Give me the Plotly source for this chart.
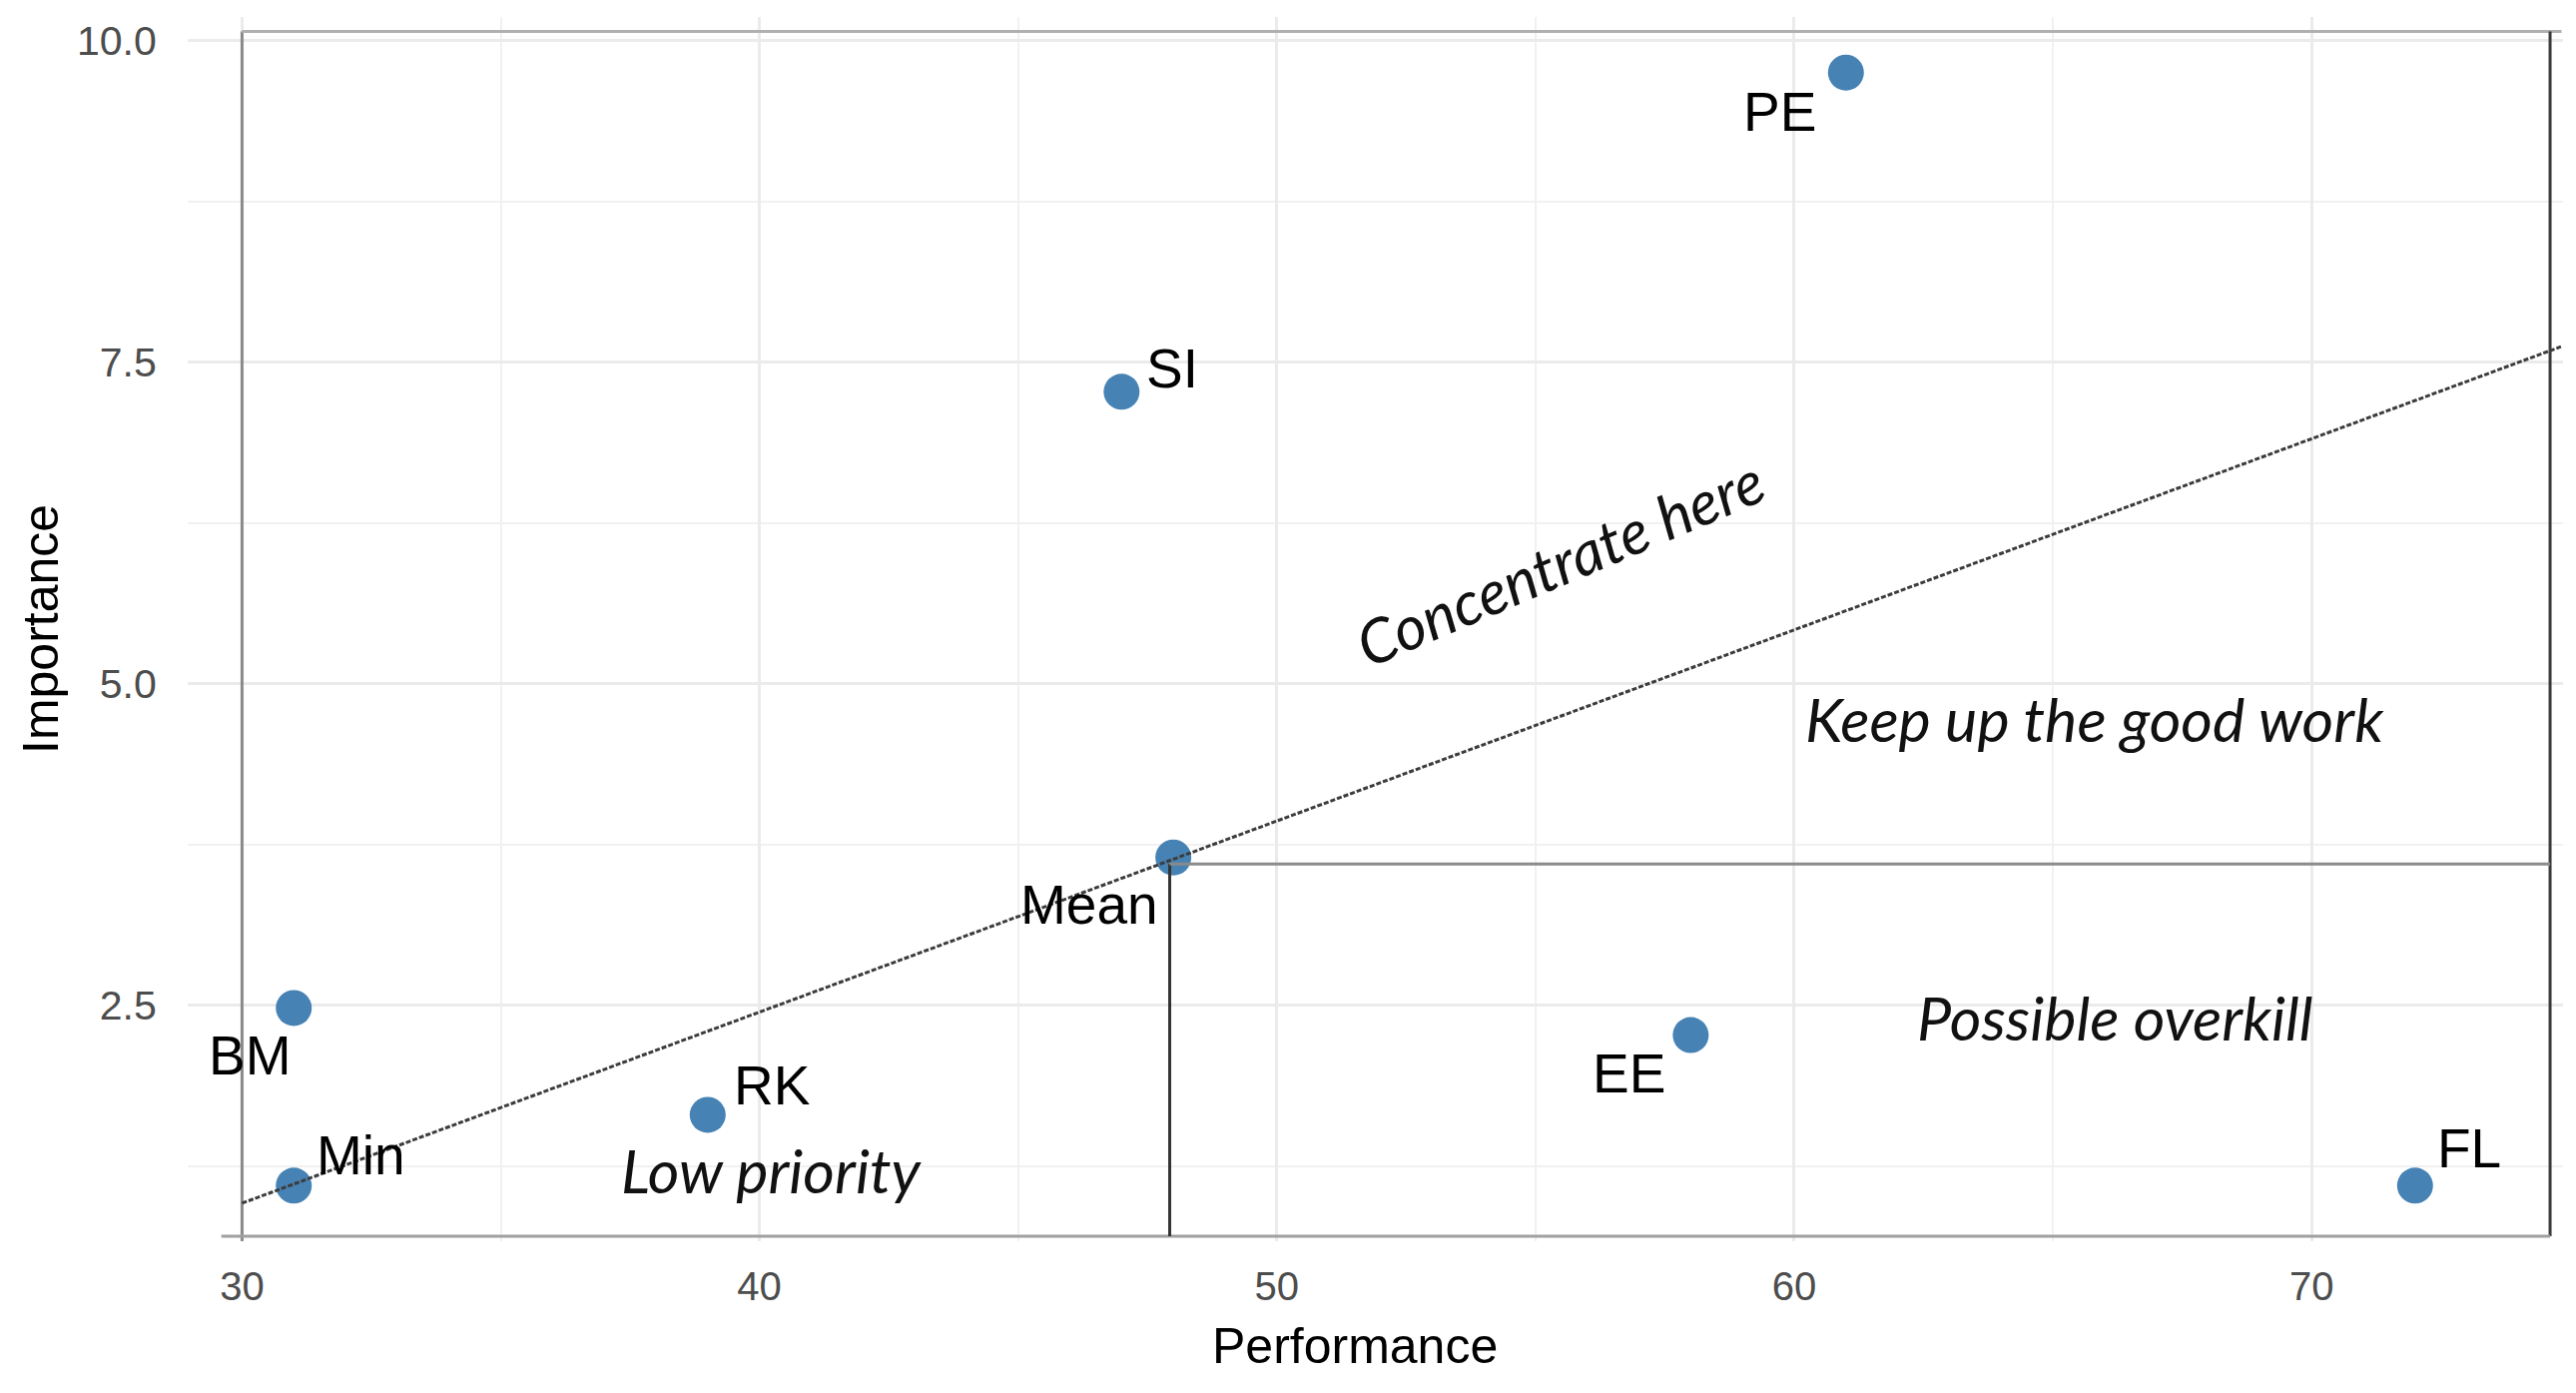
import plotly.graph_objects as go

# ---------------- data ----------------
labels = ["PE", "SI", "Mean", "BM", "Min", "RK", "EE", "FL"]
performance = [61, 47, 48, 31, 31, 39, 58, 72]
importance = [9.75, 7.27, 3.65, 2.48, 1.10, 1.65, 2.27, 1.10]

# label offsets in px relative to the point (dx right, dy up)
label_dx = [-66, 51, -84, -44, 67, 65, -62, 54]
label_dy = [-39, 23, -47, -48, 30, 29, -38, 37]

x_ticks = [30, 40, 50, 60, 70]
y_ticks = [2.5, 5.0, 7.5, 10.0]
y_tick_text = ["2.5", "5.0", "7.5", "10.0"]

quadrant_text = ["Concentrate here", "Keep up the good work", "Possible overkill", "Low priority"]
quadrant_x = [55.47, 65.8, 66.2, 40.24]
quadrant_y = [5.95, 4.73, 2.41, 1.22]
quadrant_angle = [-23, 0, 0, 0]

# hand-drawn frame / guide lines (data units)
frame_x = [30, 74.61]
frame_y = [0.706, 10.07]
frame_top_end = 74.83
frame_bottom_start = 29.6
diag_x = [30, 74.82]
diag_y = [0.963, 7.62]
mean_line_x = 47.93
mean_line_y = 3.60

# ---------------- ranges (ggplot-like 5% expansion) ----------------
xr = max(performance) - min(performance)
yr = max(importance) - min(importance)
x_range = [min(performance) - 0.05 * xr, frame_top_end + 0.03]
y_range = [min(importance) - 0.05 * yr, max(importance) + 0.05 * yr]

fig = go.Figure()

fig.add_trace(go.Scatter(
    x=performance, y=importance, mode="markers",
    marker=dict(color="#4682B4", size=36, line=dict(width=0)),
    showlegend=False, hoverinfo="skip",
))

shapes = []
def seg(x0, y0, x1, y1, color, width, dash="solid"):
    shapes.append(dict(type="line", xref="x", yref="y", x0=x0, y0=y0, x1=x1, y1=y1,
                       line=dict(color=color, width=width, dash=dash), layer="above"))

# frame
seg(frame_x[0], frame_y[0] - 0.08, frame_x[0], frame_y[1], "#8a8a8a", 3)      # left
seg(frame_x[0], frame_y[1], frame_top_end, frame_y[1], "#b0b0b0", 3)           # top
seg(frame_x[1], frame_y[0], frame_x[1], frame_y[1], "#3a3a3a", 3)              # right
seg(frame_bottom_start, frame_y[0], frame_x[1], frame_y[0], "#a0a0a0", 3)      # bottom
# mean lines
seg(mean_line_x, mean_line_y, mean_line_x, frame_y[0], "#333333", 3)
seg(mean_line_x, mean_line_y, frame_x[1], mean_line_y, "#8a8a8a", 3)
# diagonal
seg(diag_x[0], diag_y[0], diag_x[1], diag_y[1], "#3c3c3c", 3, "5px,2px")

annotations = []
for lab, x, y, dx, dy in zip(labels, performance, importance, label_dx, label_dy):
    annotations.append(dict(
        x=x, y=y, xref="x", yref="y", text=lab, showarrow=False,
        xshift=dx, yshift=dy, xanchor="center", yanchor="middle",
        font=dict(family="Liberation Sans, Arial, sans-serif", size=55, color="#000000"),
    ))
for t, x, y, a in zip(quadrant_text, quadrant_x, quadrant_y, quadrant_angle):
    annotations.append(dict(
        x=x, y=y, xref="x", yref="y", text="<i>" + t + "</i>", showarrow=False,
        textangle=a, xanchor="center", yanchor="middle",
        font=dict(family="Lato, Open Sans, sans-serif", size=61, color="#111111"),
    ))
# axis titles
annotations.append(dict(
    x=(min(performance) - 0.05 * xr + max(performance) + 0.05 * xr) / 2, y=0,
    xref="x", yref="paper", text="Performance", showarrow=False,
    yshift=-105, xanchor="center", yanchor="middle",
    font=dict(family="Liberation Sans, Arial, sans-serif", size=50, color="#000000"),
))
annotations.append(dict(
    x=0, y=0.5, xref="paper", yref="paper", text="Importance", showarrow=False,
    xshift=-147, textangle=-90, xanchor="center", yanchor="middle",
    font=dict(family="Liberation Sans, Arial, sans-serif", size=50, color="#000000"),
))

fig.update_layout(
    width=2580, height=1395,
    margin=dict(l=188, r=13, t=17, b=152),
    paper_bgcolor="white", plot_bgcolor="white",
    shapes=shapes, annotations=annotations,
    showlegend=False,
)
fig.update_xaxes(
    range=x_range, tickvals=x_ticks, ticktext=[str(v) for v in x_ticks],
    showgrid=True, gridcolor="#EBEBEB", gridwidth=3,
    minor=dict(dtick=5, tick0=30, showgrid=True, gridcolor="#F1F1F1", gridwidth=2),
    zeroline=False, showline=False,
    ticks="outside", ticklen=10, tickcolor="rgba(0,0,0,0)",
    tickfont=dict(family="Liberation Sans, Arial, sans-serif", size=40, color="#4D4D4D"),
)
fig.update_yaxes(
    range=y_range, tickvals=y_ticks, ticktext=y_tick_text,
    showgrid=True, gridcolor="#EBEBEB", gridwidth=3,
    minor=dict(dtick=1.25, tick0=0, showgrid=True, gridcolor="#F1F1F1", gridwidth=2),
    zeroline=False, showline=False,
    ticks="outside", ticklen=22, tickcolor="rgba(0,0,0,0)",
    tickfont=dict(family="Liberation Sans, Arial, sans-serif", size=41, color="#4D4D4D"),
)

fig.write_html("out.html", config={"displayModeBar": False},
               post_script="document.body.style.margin='0';document.body.style.overflow='hidden';")
